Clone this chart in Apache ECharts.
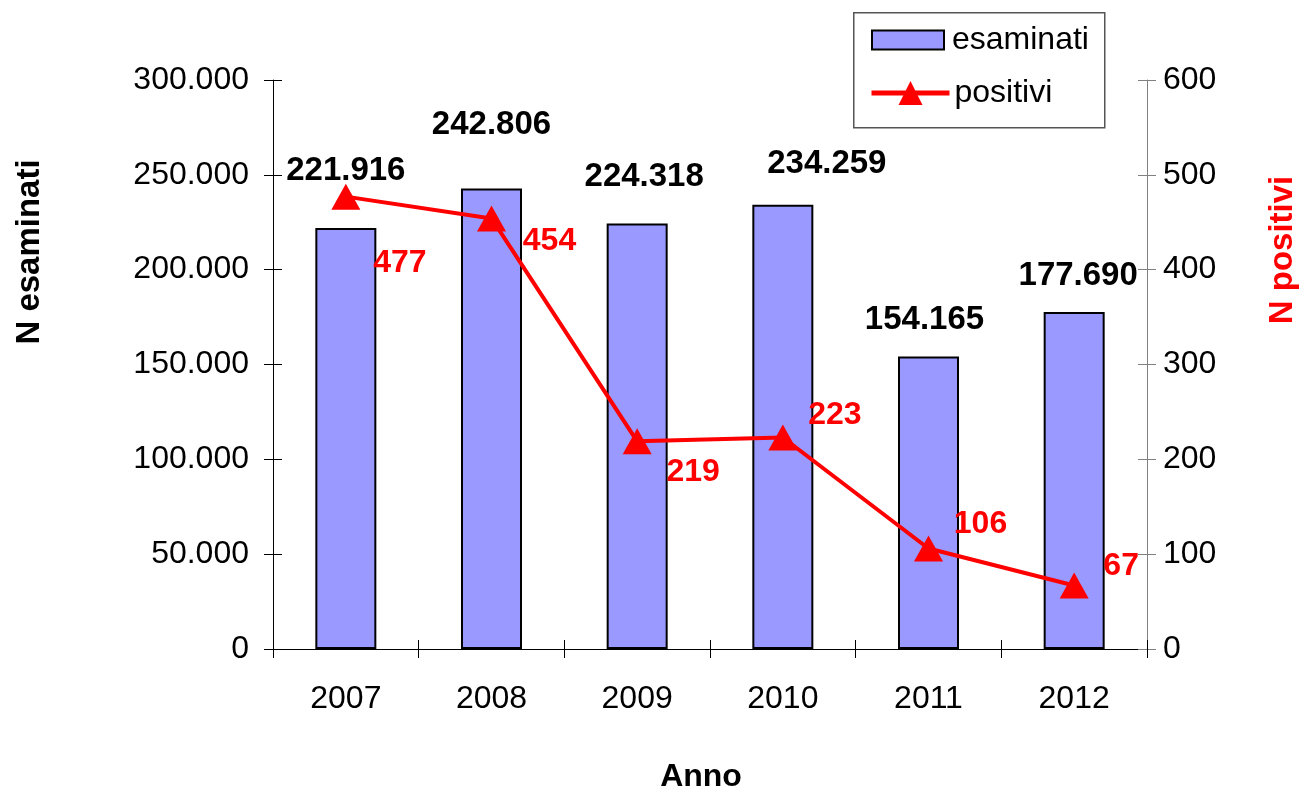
<!DOCTYPE html>
<html>
<head>
<meta charset="utf-8">
<script src="https://cdn.jsdelivr.net/npm/echarts@6/dist/echarts.min.js"></script>
<style>
html,body{margin:0;padding:0;background:#fff;}
#chart{width:1304px;height:792px;}
</style>
</head>
<body>
<div id="chart"></div>
<script>
var categories = ['2007', '2008', '2009', '2010', '2011', '2012'];
var esaminati = [221916, 242806, 224318, 234259, 154165, 177690];
var positivi = [477, 454, 219, 223, 106, 67];
var leftTicks = {min: 0, max: 300000, interval: 50000};
var rightTicks = {min: 0, max: 600, interval: 100};

// label placement (styling only)
var barLabelOffsets = [[0, -41], [0, -48], [7, -31], [44, -25], [-4, -21], [4, -20]];
var lineLabelOffsets = [[54, 67], [58, 23], [56, 31], [52, -22], [52, -24], [47, -19]];

var FONT = '"Liberation Sans", Arial, sans-serif';

function fmtIt(v) {
  var s = String(Math.round(v));
  return s.replace(/\B(?=(\d{3})+(?!\d))/g, '.');
}

var chart = echarts.init(document.getElementById('chart'), null, {renderer: 'canvas'});

var barData = esaminati.map(function (v, i) {
  return {value: v, label: {offset: barLabelOffsets[i]}};
});
var lineData = positivi.map(function (v, i) {
  return {value: v, label: {offset: lineLabelOffsets[i]}};
});

var tickStyleLeft = {color: '#000', width: 1};
var tickStyleRight = {color: '#808080', width: 1};

var option = {
  animation: false,
  backgroundColor: '#fff',
  textStyle: {fontFamily: FONT},
  grid: {left: 273, right: 157, top: 80, bottom: 143, containLabel: false, outerBoundsMode: 'none'},
  xAxis: [
    {
      type: 'category', data: categories, boundaryGap: true,
      axisLine: {lineStyle: {color: '#000', width: 1}},
      axisTick: {show: true, alignWithLabel: false, length: 9, inside: false, lineStyle: tickStyleLeft},
      axisLabel: {fontSize: 32, color: '#000', fontFamily: FONT, margin: 34},
      splitLine: {show: false}
    },
    {
      type: 'category', data: categories, boundaryGap: true, position: 'bottom', offset: 0,
      axisLine: {show: false},
      axisTick: {show: true, alignWithLabel: false, length: 9, inside: true, lineStyle: tickStyleLeft},
      axisLabel: {show: false},
      splitLine: {show: false}
    }
  ],
  yAxis: [
    {
      type: 'value', position: 'left', offset: 0,
      min: leftTicks.min, max: leftTicks.max, interval: leftTicks.interval,
      axisLine: {show: true, lineStyle: {color: '#000', width: 1}},
      axisTick: {show: true, length: 9, lineStyle: tickStyleLeft},
      axisLabel: {fontSize: 32, color: '#000', fontFamily: FONT, margin: 24, formatter: function (v) { return fmtIt(v); }},
      splitLine: {show: false}
    },
    {
      type: 'value', position: 'right', offset: 0,
      min: rightTicks.min, max: rightTicks.max, interval: rightTicks.interval,
      axisLine: {show: true, lineStyle: {color: '#808080', width: 1}},
      axisTick: {show: true, length: 9, lineStyle: tickStyleRight},
      axisLabel: {fontSize: 32, color: '#000', fontFamily: FONT, margin: 16},
      splitLine: {show: false}
    },
    {
      type: 'value', position: 'left', offset: 0,
      min: leftTicks.min, max: leftTicks.max, interval: leftTicks.interval,
      axisLine: {show: false},
      axisTick: {show: true, length: 9, inside: true, lineStyle: tickStyleLeft},
      axisLabel: {show: false},
      splitLine: {show: false}
    },
    {
      type: 'value', position: 'right', offset: 0,
      min: rightTicks.min, max: rightTicks.max, interval: rightTicks.interval,
      axisLine: {show: false},
      axisTick: {show: true, length: 9, inside: true, lineStyle: tickStyleRight},
      axisLabel: {show: false},
      splitLine: {show: false}
    }
  ],
  legend: [
    {
      data: [{name: 'esaminati', icon: 'rect'}], left: 871, top: 24, orient: 'vertical',
      itemWidth: 72, itemHeight: 19, padding: 0,
      textStyle: {fontSize: 32, lineHeight: 32, color: '#000', fontFamily: FONT, padding: [0, 0, 0, 3]}
    },
    {
      data: ['positivi'], left: 869, top: 77, orient: 'vertical',
      itemWidth: 78, itemHeight: 30, padding: 0,
      lineStyle: {width: 5, color: '#ff0000'},
      textStyle: {fontSize: 32, lineHeight: 32, color: '#000', fontFamily: FONT, padding: [0, 0, 0, 0]}
    }
  ],
  graphic: [
    {type: 'rect', left: 853, top: 12, z: -1, shape: {width: 251, height: 115},
     style: {fill: '#fff', stroke: '#555', lineWidth: 1.5}},
    {type: 'text', z: 10, x: 701, y: 777,
     style: {text: 'Anno', font: 'bold 32px ' + FONT, fill: '#000', align: 'center', verticalAlign: 'middle'}},
    {type: 'text', z: 10, x: 30, y: 252, rotation: Math.PI / 2,
     style: {text: 'N esaminati', font: 'bold 33px ' + FONT, fill: '#000', align: 'center', verticalAlign: 'middle'}},
    {type: 'text', z: 10, x: 1283, y: 250, rotation: Math.PI / 2,
     style: {text: 'N positivi', font: 'bold 33px ' + FONT, fill: '#ff0000', align: 'center', verticalAlign: 'middle'}}
  ],
  series: [
    {
      name: 'esaminati', type: 'bar', xAxisIndex: 0, yAxisIndex: 0,
      data: barData, barWidth: 61,
      itemStyle: {color: '#9999ff', borderColor: '#000', borderWidth: 2},
      label: {show: true, position: 'top', distance: 0, fontSize: 33, lineHeight: 32, fontWeight: 'bold',
              color: '#000', fontFamily: FONT, formatter: function (p) { return fmtIt(p.value); }},
      z: 2
    },
    {
      name: 'positivi', type: 'line', xAxisIndex: 0, yAxisIndex: 1,
      data: lineData, symbol: 'triangle', symbolSize: [29, 26],
      lineStyle: {color: '#ff0000', width: 4},
      itemStyle: {color: '#ff0000', borderWidth: 0},
      label: {show: true, position: 'inside', fontSize: 32, lineHeight: 32, fontWeight: 'bold',
              color: '#ff0000', fontFamily: FONT},
      z: 5
    }
  ]
};
chart.setOption(option);
</script>
</body>
</html>
